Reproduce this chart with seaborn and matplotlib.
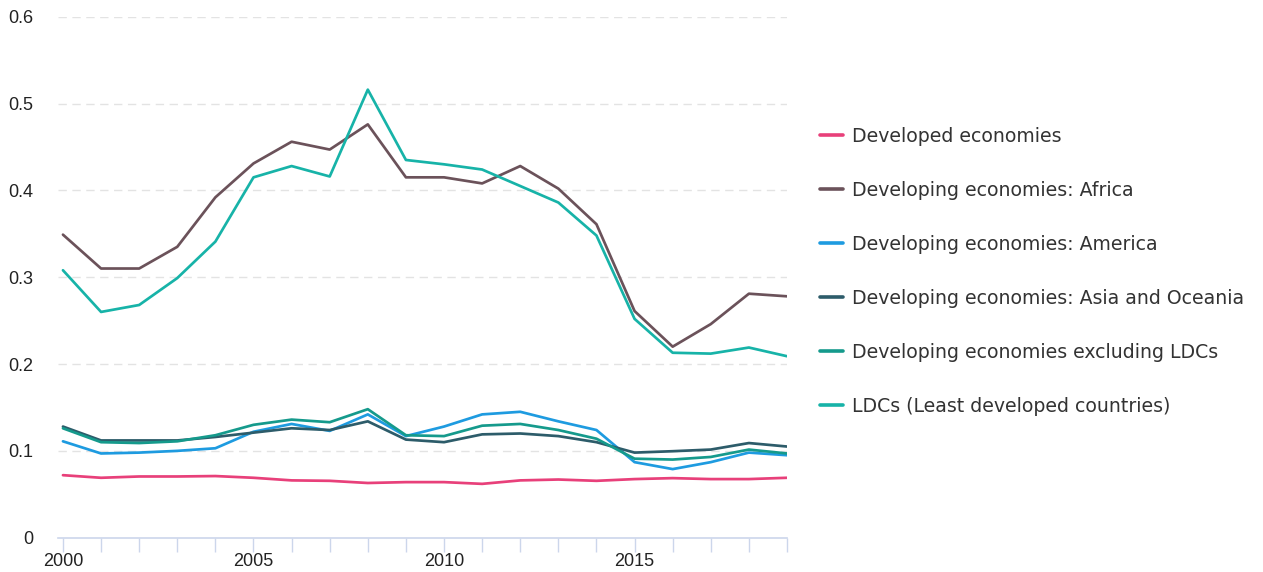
import pandas as pd
import matplotlib
matplotlib.use("Agg")
import matplotlib.pyplot as plt
import seaborn as sns

# Data
years = list(range(2000, 2020))

developed = [0.072, 0.069, 0.0705, 0.0705, 0.071, 0.069, 0.066, 0.0655, 0.063, 0.064,
             0.064, 0.062, 0.066, 0.067, 0.0655, 0.0675, 0.0686, 0.0675, 0.0675, 0.069]
africa = [0.349, 0.310, 0.310, 0.335, 0.392, 0.431, 0.456, 0.447, 0.476, 0.415,
          0.415, 0.408, 0.428, 0.402, 0.361, 0.261, 0.220, 0.246, 0.281, 0.278]
america = [0.111, 0.097, 0.098, 0.100, 0.103, 0.122, 0.131, 0.123, 0.142, 0.117,
           0.128, 0.142, 0.145, 0.134, 0.124, 0.087, 0.079, 0.087, 0.098, 0.095]
asia = [0.128, 0.112, 0.112, 0.112, 0.116, 0.121, 0.126, 0.124, 0.134, 0.113,
        0.110, 0.119, 0.120, 0.117, 0.110, 0.098, 0.0996, 0.1015, 0.109, 0.105]
excl_ldcs = [0.126, 0.110, 0.109, 0.111, 0.118, 0.130, 0.136, 0.133, 0.148, 0.118,
             0.117, 0.129, 0.131, 0.124, 0.114, 0.091, 0.090, 0.093, 0.1015, 0.097]
ldcs = [0.308, 0.260, 0.268, 0.299, 0.341, 0.415, 0.428, 0.416, 0.516, 0.435,
        0.430, 0.424, 0.405, 0.386, 0.348, 0.252, 0.213, 0.212, 0.219, 0.209]

series_names = [
    "Developed economies",
    "Developing economies: Africa",
    "Developing economies: America",
    "Developing economies: Asia and Oceania",
    "Developing economies excluding LDCs",
    "LDCs (Least developed countries)",
]
series_values = [developed, africa, america, asia, excl_ldcs, ldcs]
colors = ["#e8407a", "#6b525a", "#1e9be0", "#2d5c6a", "#159a8c", "#17b3a8"]

y_ticks = [0, 0.1, 0.2, 0.3, 0.4, 0.5, 0.6]
y_tick_labels = ["0", "0.1", "0.2", "0.3", "0.4", "0.5", "0.6"]
x_tick_labels = [str(y) if y % 5 == 0 else "" for y in years]

# long-form table for seaborn
df = pd.concat(
    [pd.DataFrame({"year": years, "value": vals, "series": name})
     for name, vals in zip(series_names, series_values)],
    ignore_index=True,
)

sns.set_style("white")
plt.rcParams["font.family"] = ["DejaVu Sans"]

W, H = 1263, 572
fig = plt.figure(figsize=(W / 100, H / 100), dpi=100)
ax = fig.add_axes([58 / W, 1 - 537.7 / H, (787 - 58) / W, (537.7 - 16.7) / H])

sns.lineplot(data=df, x="year", y="value", hue="series", hue_order=series_names,
             palette=dict(zip(series_names, colors)), linewidth=1.95, ax=ax,
             legend=False)

ax.set_xlim(1999.87, 2019)
ax.set_ylim(0, 0.6)
ax.set_xlabel("")
ax.set_ylabel("")

ax.set_yticks(y_ticks)
ax.set_yticklabels(y_tick_labels)
ax.set_xticks(years)
ax.set_xticklabels(x_tick_labels)

ax.tick_params(axis="both", labelfontfamily="Liberation Sans", labelsize=13,
               labelcolor="#222222")
ax.tick_params(axis="y", left=False, length=0, pad=18)
ax.tick_params(axis="x", bottom=True, length=10, width=1, color="#ccd6eb", pad=1)

for g in y_ticks[1:]:
    ax.axhline(g, color="#e3e3e3", linewidth=1, linestyle=(0, (6, 4)), zorder=0)

for side in ["top", "right", "left"]:
    ax.spines[side].set_visible(False)
ax.spines["bottom"].set_color("#ccd6eb")
ax.spines["bottom"].set_linewidth(1.2)

handles = [plt.Line2D([], [], color=c, linewidth=2.6) for c in colors]
fig.legend(handles, series_names, loc="upper left",
           bbox_to_anchor=(820 / W, 1 - 127 / H), frameon=False,
           prop={"family": "DejaVu Sans", "size": 13.6}, labelcolor="#333333",
           handlelength=1.2, handletextpad=0.5, labelspacing=1.85,
           borderaxespad=0, borderpad=0)

fig.savefig("out.png", dpi=100)
